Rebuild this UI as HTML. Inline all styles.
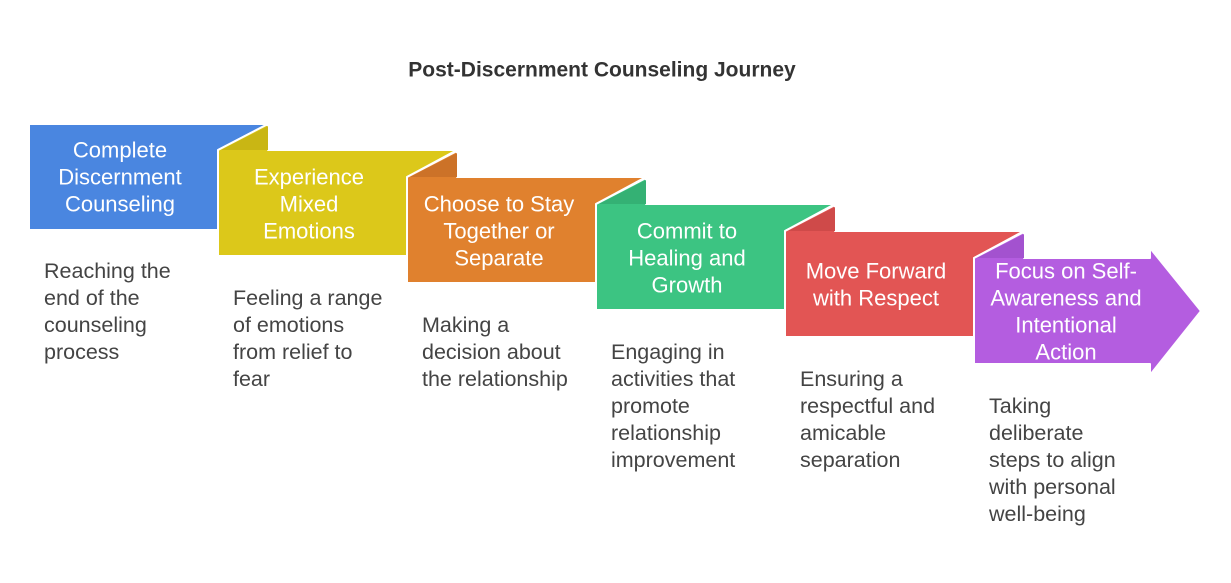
<!DOCTYPE html>
<html><head><meta charset="utf-8"><style>
html,body{margin:0;padding:0;background:#fff;}
svg{display:block;font-family:"Liberation Sans",sans-serif;}
.t{fill:#fff;font-size:22px;text-anchor:middle;dominant-baseline:central;}
.d{fill:#444;font-size:21.5px;dominant-baseline:central;}
</style></head><body>
<svg width="1231" height="583" viewBox="0 0 1231 583">
<text x="602" y="70" text-anchor="middle" dominant-baseline="central" font-size="21" font-weight="bold" fill="#333">Post-Discernment Counseling Journey</text>
<g stroke="#fff" stroke-width="2" stroke-linejoin="round">
<polygon fill="#4a86e0" points="29,124 268,124 218,150 218,230 29,230"/>
<polygon fill="#dcc81a" points="218,150 268,124 268,150 457,150 407,177 407,256 218,256"/>
<polygon fill="#e0812e" points="407,177 457,151 457,177 646,177 596,204 596,283 407,283"/>
<polygon fill="#3cc482" points="596,204 646,178 646,204 835,204 785,231 785,310 596,310"/>
<polygon fill="#e25554" points="785,231 835,205 835,231 1024,231 974,258 974,337 785,337"/>
<polygon fill="#b45de0" points="974,258 1024,232 1024,258 1150,258 1150,248 1201,311 1150,375 1150,364 974,364"/>
</g>
<g stroke="none">
<polygon fill="#c9b614" points="221,150 268,126 268,150"/>
<polygon fill="#cc7228" points="410,177 457,153 457,177"/>
<polygon fill="#34b174" points="599,204 646,180 646,204"/>
<polygon fill="#cf4a49" points="788,231 835,207 835,231"/>
<polygon fill="#a352cf" points="977,258 1024,234 1024,258"/>
</g>
<g class="t">
<text x="120" y="150">Complete</text><text x="120" y="177">Discernment</text><text x="120" y="204">Counseling</text>
<text x="309" y="177">Experience</text><text x="309" y="204">Mixed</text><text x="309" y="231">Emotions</text>
<text x="499" y="204">Choose to Stay</text><text x="499" y="231">Together or</text><text x="499" y="258">Separate</text>
<text x="687" y="231">Commit to</text><text x="687" y="258">Healing and</text><text x="687" y="285">Growth</text>
<text x="876" y="271">Move Forward</text><text x="876" y="298">with Respect</text>
<text x="1066" y="271">Focus on Self-</text><text x="1066" y="298">Awareness and</text><text x="1066" y="325">Intentional</text><text x="1066" y="352">Action</text>
</g>
<g class="d">
<text x="44" y="271">Reaching the</text><text x="44" y="298">end of the</text><text x="44" y="325">counseling</text><text x="44" y="352">process</text>
<text x="233" y="298">Feeling a range</text><text x="233" y="325">of emotions</text><text x="233" y="352">from relief to</text><text x="233" y="379">fear</text>
<text x="422" y="325">Making a</text><text x="422" y="352">decision about</text><text x="422" y="379">the relationship</text>
<text x="611" y="352">Engaging in</text><text x="611" y="379">activities that</text><text x="611" y="406">promote</text><text x="611" y="433">relationship</text><text x="611" y="460">improvement</text>
<text x="800" y="379">Ensuring a</text><text x="800" y="406">respectful and</text><text x="800" y="433">amicable</text><text x="800" y="460">separation</text>
<text x="989" y="406">Taking</text><text x="989" y="433">deliberate</text><text x="989" y="460">steps to align</text><text x="989" y="487">with personal</text><text x="989" y="514">well-being</text>
</g>
</svg>
</body></html>
